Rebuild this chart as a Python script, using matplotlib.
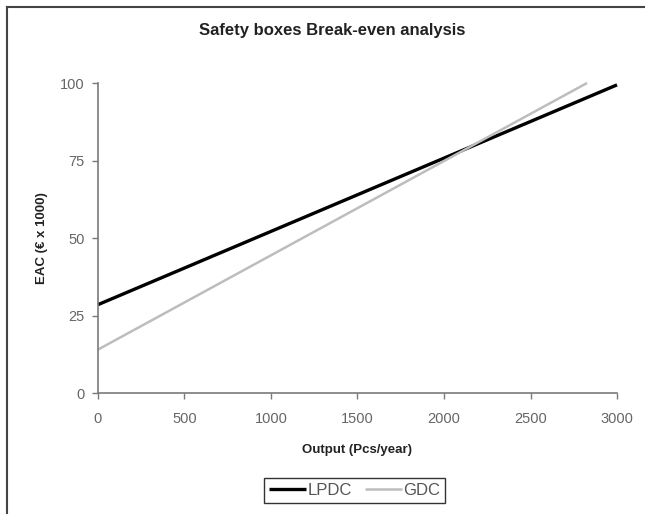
import matplotlib
matplotlib.use("Agg")
import matplotlib.pyplot as plt
from matplotlib.lines import Line2D

plt.rcParams['font.family'] = ['Liberation Sans', 'DejaVu Sans']

lpdc_x = [0, 3000]
lpdc_y = [28.5, 99.4]
gdc_x = [0, 2827]
gdc_y = [14.0, 100.0]
x_ticks = [0, 500, 1000, 1500, 2000, 2500, 3000]
y_ticks = [0, 25, 50, 75, 100]

fig = plt.figure(figsize=(6.45, 5.14), dpi=100)
ax = fig.add_axes([0.1519, 0.2354, 0.8047, 0.6031])

ax.plot(lpdc_x, lpdc_y, color='black', lw=2.4, label='LPDC', clip_on=False, solid_capstyle='butt')
ax.plot(gdc_x, gdc_y, color='#bdbdbd', lw=1.8, label='GDC', clip_on=False, solid_capstyle='butt')

ax.set_xlim(0, 3000)
ax.set_ylim(0, 100)
ax.set_xticks(x_ticks)
ax.set_yticks(y_ticks)
for s in ['top', 'right']:
    ax.spines[s].set_visible(False)
for s in ['left', 'bottom']:
    ax.spines[s].set_color('#7a7a7a')
    ax.spines[s].set_linewidth(1.2)
ax.tick_params(axis='both', colors='#7a7a7a', labelcolor='#666666', labelsize=10.5, length=4.5, width=1, direction='out')
ax.tick_params(axis='x', pad=9)
ax.tick_params(axis='y', pad=5)

fig.text(0.515, 0.9416, 'Safety boxes Break-even analysis', fontsize=12, fontweight='bold',
         color='#222222', ha='center', va='center')
ax.set_xlabel('Output (Pcs/year)', fontsize=9.5, fontweight='bold', color='#222222', labelpad=13)
ax.set_ylabel('EAC (€ x 1000)', fontsize=9.5, fontweight='bold', color='#222222', labelpad=9)

leg = fig.legend(loc='center', bbox_to_anchor=(0.550, 0.0457), ncol=2, frameon=True,
                 fancybox=False, edgecolor='black', fontsize=12, handlelength=2.2,
                 columnspacing=0.8, handletextpad=0.1, borderpad=0.3, borderaxespad=0)
leg.get_frame().set_linewidth(1.0)
for t in leg.get_texts():
    t.set_color('#555555')

# figure frame (left and top)
fig.add_artist(Line2D([0.011, 0.011], [0.0, 0.986], transform=fig.transFigure, color='#444444', lw=1.5))
fig.add_artist(Line2D([0.011, 1.0], [0.986, 0.986], transform=fig.transFigure, color='#444444', lw=1.5))

fig.savefig('out.png', dpi=100)
